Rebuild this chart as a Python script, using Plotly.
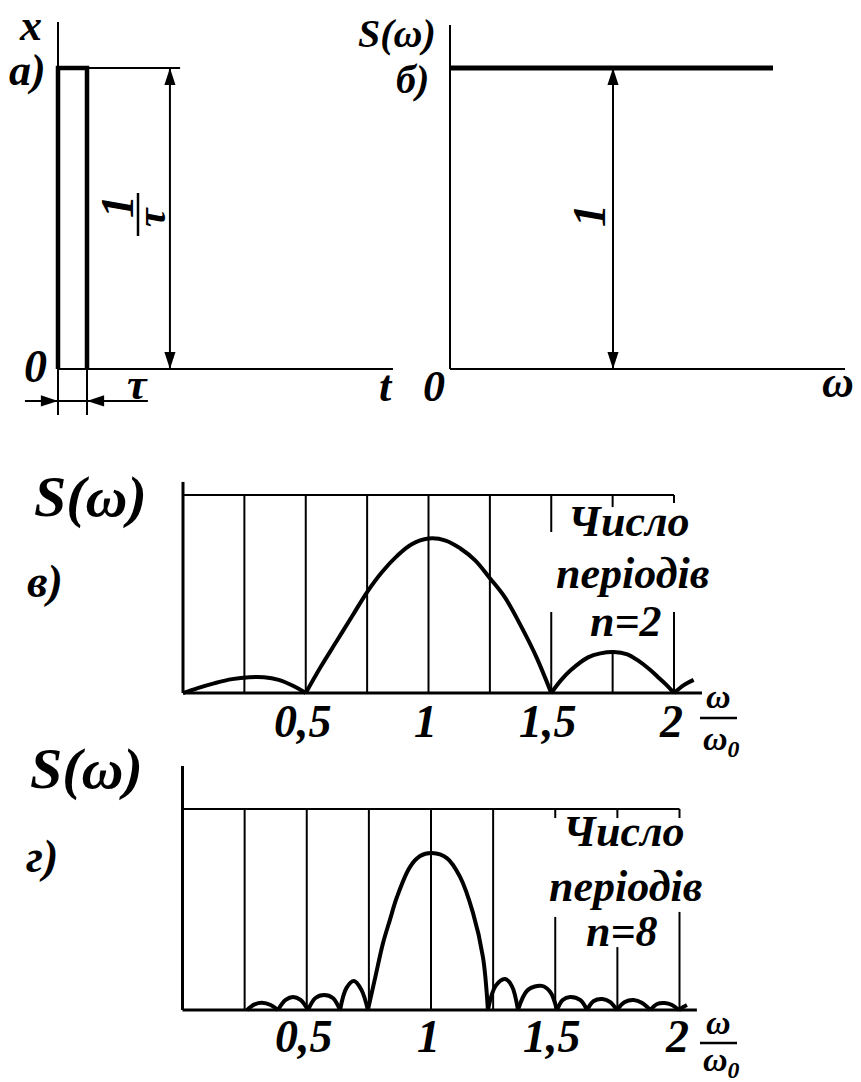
import plotly.graph_objects as go

W, H = 861, 1082

# ---------------- data ----------------
# a) single rectangular pulse: duration tau (=1), amplitude 1/tau (=1)
pulse_t = [0, 0, 1, 1]
pulse_x = [0, 1, 1, 0]

# б) spectrum of that pulse: S(w) = 1
spec_w = [0, 3.23]
spec_S = [1, 1]

# в) radio pulse, n = 2 periods: |S| versus w/w0 (one list per lobe)
n2_lobes_x = [
    [0, 0.06, 0.13, 0.2, 0.27, 0.33, 0.39, 0.45, 0.5],
    [0.5, 0.56, 0.625, 0.69, 0.75, 0.81, 0.87, 0.93, 1.0, 1.07, 1.13, 1.19, 1.25, 1.31, 1.38, 1.44, 1.5],
    [1.5, 1.54, 1.58, 1.65, 1.7, 1.755, 1.81, 1.85, 1.9, 1.935, 1.97, 2.0],
    [2.0, 2.04, 2.08],
]
n2_lobes_y = [
    [0, 0.025, 0.05, 0.07, 0.08, 0.08, 0.066, 0.035, 0],
    [0, 0.13, 0.26, 0.39, 0.51, 0.61, 0.69, 0.75, 0.78, 0.77, 0.73, 0.67, 0.58, 0.485, 0.33, 0.18, 0],
    [0, 0.065, 0.116, 0.18, 0.2, 0.207, 0.195, 0.167, 0.12, 0.08, 0.04, 0],
    [0, 0.04, 0.066],
]

# г) radio pulse, n = 8 periods
n8_lobes_x = [
    [0.26, 0.29, 0.32, 0.355, 0.384],
    [0.384, 0.415, 0.445, 0.475, 0.505],
    [0.505, 0.535, 0.57, 0.605, 0.634],
    [0.634, 0.66, 0.69, 0.72, 0.746],
    [0.746, 0.777, 0.807, 0.835, 0.863, 0.915, 0.956, 1.004, 1.064, 1.117, 1.169, 1.209, 1.229],
    [1.229, 1.26, 1.298, 1.325, 1.35],
    [1.35, 1.39, 1.446, 1.48, 1.507],
    [1.507, 1.53, 1.56, 1.6, 1.628],
    [1.628, 1.655, 1.69, 1.72, 1.748],
    [1.748, 1.78, 1.815, 1.85, 1.882],
    [1.882, 1.91, 1.94, 1.97, 1.997],
    [1.997, 2.015, 2.03],
]
n8_lobes_y = [
    [0, 0.028, 0.036, 0.025, 0],
    [0, 0.05, 0.065, 0.05, 0],
    [0, 0.06, 0.075, 0.06, 0],
    [0, 0.11, 0.144, 0.1, 0],
    [0, 0.17, 0.333, 0.45, 0.562, 0.711, 0.766, 0.781, 0.756, 0.662, 0.483, 0.264, 0],
    [0, 0.12, 0.154, 0.12, 0],
    [0, 0.1, 0.12, 0.09, 0],
    [0, 0.05, 0.065, 0.05, 0],
    [0, 0.045, 0.055, 0.04, 0],
    [0, 0.04, 0.05, 0.035, 0],
    [0, 0.03, 0.035, 0.025, 0],
    [0, 0.015, 0.025],
]

grid_vals = [0.25, 0.5, 0.75, 1.0, 1.25, 1.5, 1.75, 2.0]
tick_vals = [0.5, 1, 1.5, 2]
tick_text = ["0,5", "1", "1,5", "2"]

# ---------------- panel geometry (pixel of value 0, pixels per unit) ----------------
PANELS = {
    "a": dict(p0=58, kx=29, q0=369, ky=301, ax="x", ay="y"),
    "b": dict(p0=450, kx=100, q0=369, ky=301, ax="x2", ay="y2"),
    "v": dict(p0=183, kx=245.5, q0=693, ky=198, ax="x3", ay="y3"),
    "g": dict(p0=182.5, kx=248.5, q0=1010, ky=201, ax="x4", ay="y4"),
}

fig = go.Figure()
BLACK = "black"


def line(panel, xs, ys, width=2, shape="linear"):
    p = PANELS[panel]
    fig.add_trace(go.Scatter(x=xs, y=ys, mode="lines", xaxis=p["ax"], yaxis=p["ay"],
                             line=dict(color=BLACK, width=width, shape=shape),
                             hoverinfo="skip", showlegend=False))


def arrows(panel, xs, ys, angles, size=18):
    p = PANELS[panel]
    fig.add_trace(go.Scatter(x=xs, y=ys, mode="markers", xaxis=p["ax"], yaxis=p["ay"],
                             marker=dict(symbol="arrow", size=size, angle=angles, color=BLACK,
                                         line=dict(width=0)),
                             hoverinfo="skip", showlegend=False))


def seg_list(segs):
    xs, ys = [], []
    for (x0, y0, x1, y1) in segs:
        xs += [x0, x1, None]
        ys += [y0, y1, None]
    return xs, ys


# ---------- panel a ----------
xs, ys = seg_list([(0, -0.153, 0, 1.153),          # ordinate
                   (0, 0, 11.55, 0),               # time axis
                   (1, 1, 4.21, 1),                # reference line at 1/tau
                   (1, 0, 1, -0.153),              # extension of pulse edge
                   (3.86, 0, 3.86, 1),             # dimension 1/tau
                   (-1.14, -0.106, 3.10, -0.106)])  # dimension tau
line("a", xs, ys, width=2)
line("a", pulse_t, pulse_x, width=4.5)
arrows("a", [3.86, 3.86, 0, 1], [1, 0, -0.106, -0.106], [0, 180, 90, 270])

# ---------- panel б ----------
xs, ys = seg_list([(0, 0, 0, 1.143), (0, 0, 3.95, 0), (1.63, 0, 1.63, 1)])
line("b", xs, ys, width=2)
line("b", spec_w, spec_S, width=5)
arrows("b", [1.63, 1.63], [1, 0], [0, 180])

# ---------- panels в, г ----------
GAPS = {
    "v": {1.5: [(0, 0.409), (0.813, 1)], 1.75: [(0, 0.217), (0.939, 1)], 2.0: [(0, 0.409), (0.96, 1)]},
    "g": {1.5: [(0, 0.463), (0.955, 1)], 1.75: [(0, 0.313), (0.955, 1)], 2.0: [(0, 0.488), (0.955, 1)]},
}
AXTOP = {"v": 1.066, "g": 1.214}
BASEEND = {"v": 2.114, "g": 2.07}

for pn, lx, ly in (("v", n2_lobes_x, n2_lobes_y), ("g", n8_lobes_x, n8_lobes_y)):
    segs = []
    for gv in grid_vals:
        for (s0, s1) in GAPS[pn].get(gv, [(0, 1)]):
            segs.append((gv, s0, gv, s1))
    segs.append((0, 1, 2.0, 1))
    xs, ys = seg_list(segs)
    line(pn, xs, ys, width=2)
    xs, ys = seg_list([(0, 0, 0, AXTOP[pn]), (0, 0, BASEEND[pn], 0)])
    line(pn, xs, ys, width=3)
    cx, cy = [], []
    for a, b in zip(lx, ly):
        cx += a + [None]
        cy += b + [None]
    line(pn, cx, cy, width=4, shape="spline")

# ---------------- axes ----------------
layout_axes = {}
for i, key in enumerate(["a", "b", "v", "g"]):
    p = PANELS[key]
    xr = [-p["p0"] / p["kx"], (W - p["p0"]) / p["kx"]]
    yr = [(p["q0"] - H) / p["ky"], p["q0"] / p["ky"]]
    sfx = "" if i == 0 else str(i + 1)
    xa = dict(domain=[0, 1], range=xr, visible=False, fixedrange=True, anchor="y" + sfx)
    ya = dict(domain=[0, 1], range=yr, visible=False, fixedrange=True, anchor="x" + sfx)
    if i > 0:
        xa["overlaying"] = "x"
        ya["overlaying"] = "y"
    layout_axes["xaxis" + sfx] = xa
    layout_axes["yaxis" + sfx] = ya

# ---------------- text ----------------
FONT = "Liberation Serif"
annotations = []


def tfont(size):
    return dict(family=FONT, size=size, color=BLACK)


def bi(t):
    return "<b><i>" + t + "</i></b>"


def txt(px, py, text, size, angle=0):
    annotations.append(dict(x=px / W, y=1 - py / H, xref="paper", yref="paper",
                            text=bi(text), showarrow=False, xanchor="center", yanchor="middle",
                            textangle=angle, font=tfont(size)))


def dtxt(panel, x, y, text, size, xshift=0):
    p = PANELS[panel]
    annotations.append(dict(x=x, y=y, xref=p["ax"], yref=p["ay"], text=bi(text), showarrow=False,
                            xanchor="center", yanchor="middle", xshift=xshift, font=tfont(size)))


# panel a
txt(30, 26, "x", 44)
txt(27, 70, "a)", 44)
txt(35, 366, "0", 46)
txt(137, 384, "τ", 44)
txt(386, 386, "t", 44)
txt(118, 207, "1", 46, angle=-90)
txt(151, 217, "τ", 42, angle=-90)
# panel б
txt(397, 33, "S(ω)", 40)
txt(412, 79, "б)", 40)
txt(434, 386, "0", 44)
txt(838, 383, "ω", 44)
txt(590, 216, "1", 46, angle=-90)
# panel в
txt(90, 496, "S(ω)", 58)
txt(45, 581, "в)", 46)
txt(629, 521, "Число", 44)
txt(632, 573, "періодів", 44)
txt(626, 621, "n=2", 44)
txt(718, 696, "ω", 34)
txt(721, 741, "ω<sub>0</sub>", 34)
# panel г
txt(86, 768, "S(ω)", 58)
txt(42, 856, "г)", 46)
txt(624, 831, "Число", 44)
txt(625, 886, "періодів", 44)
txt(622, 931, "n=8", 44)
txt(718, 1022, "ω", 34)
txt(721, 1062, "ω<sub>0</sub>", 34)

for tv, tt in zip(tick_vals, tick_text):
    dtxt("v", tv, -0.146, tt, 46, xshift=-3)
    dtxt("g", tv, -0.13, tt, 46, xshift=-3)

# fraction bars
shapes = []
for (x0, y0, x1, y1) in [(138, 193, 138, 236), (700, 718, 737, 718), (700, 1043, 737, 1043)]:
    shapes.append(dict(type="line", xref="paper", yref="paper", x0=x0 / W, x1=x1 / W,
                       y0=1 - y0 / H, y1=1 - y1 / H, line=dict(color=BLACK, width=2.5)))

fig.update_layout(width=W, height=H, autosize=False, margin=dict(l=0, r=0, t=0, b=0, pad=0),
                  paper_bgcolor="white", plot_bgcolor="white", showlegend=False,
                  annotations=annotations, shapes=shapes, **layout_axes)

fig.write_html("out.html", config={"displayModeBar": False, "staticPlot": True})
